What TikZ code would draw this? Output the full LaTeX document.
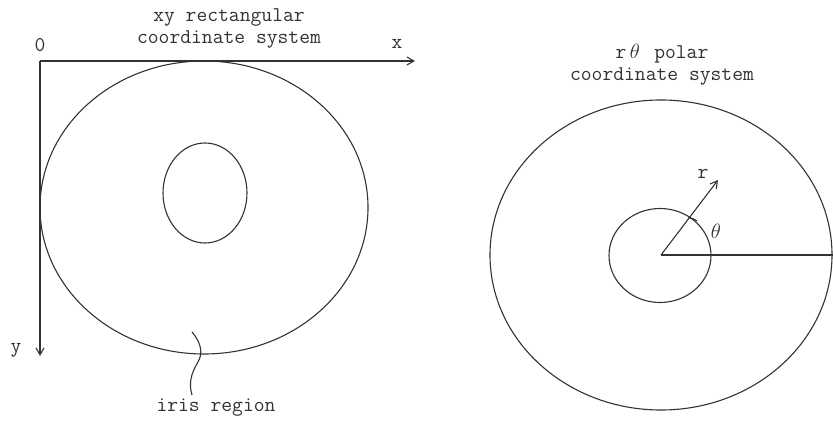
\documentclass[tikz,border=0pt]{standalone}
\usepackage{fontspec}
\usetikzlibrary{arrows.meta}
\begin{document}
\begin{tikzpicture}[x=1pt,y=-1pt,
  ln/.style={line width=1.1pt,draw=black!80},
  arr/.style={ln,-{Straight Barb[length=7pt,width=8pt,line width=1.1pt]}},
  lbl/.style={font=\ttfamily\fontsize{21}{22}\selectfont,text=black!80,inner sep=0pt,align=center}]
\useasboundingbox (0,0) rectangle (833,422);
% left figure
\coordinate (O) at (40,61);
\coordinate (xend) at (415,61);
\coordinate (yend) at (40,356);
\draw[arr] (O) -- (xend);
\draw[arr] (O) -- (yend);
\node[lbl] (zero) at (40,45) {0};
\node[lbl] (xl) at (397,44) {x};
\node[lbl] (yl) at (16,350) {y};
\node[lbl] (t1) at (229,28) {xy rectangular\\coordinate system};
\draw[ln] (204,207.5) ellipse [x radius=164, y radius=146.5];
\draw[ln] (205,193) ellipse [x radius=42, y radius=50];
\coordinate (w1) at (192,332);
\coordinate (w2) at (192,395);
\draw[ln] (w1) .. controls (203,345) and (202,355) .. (198,362) .. controls (190,375) and (189,385) .. (w2);
\node[lbl] (iris) at (216,408) {iris region};
% right figure
\coordinate (C) at (661,255);
\coordinate (R) at (833,255);
\coordinate (rt) at (718,180);
\draw[ln] (661,255) ellipse [x radius=171, y radius=155];
\draw[ln] (660,255.5) ellipse [x radius=51, y radius=47];
\draw[ln] (C) -- (R);
\draw[arr] (C) -- (rt);
\node[lbl] (rl) at (703,174) {r};
\node[lbl] (th) at (716,231) {$\theta$};
\draw[ln] (688,218) .. controls (692,218) and (695,219) .. (697,221);
\node[lbl] (t2) at (662,65) {r$\,\theta\,$ polar\\coordinate system};
\end{tikzpicture}
\end{document}
